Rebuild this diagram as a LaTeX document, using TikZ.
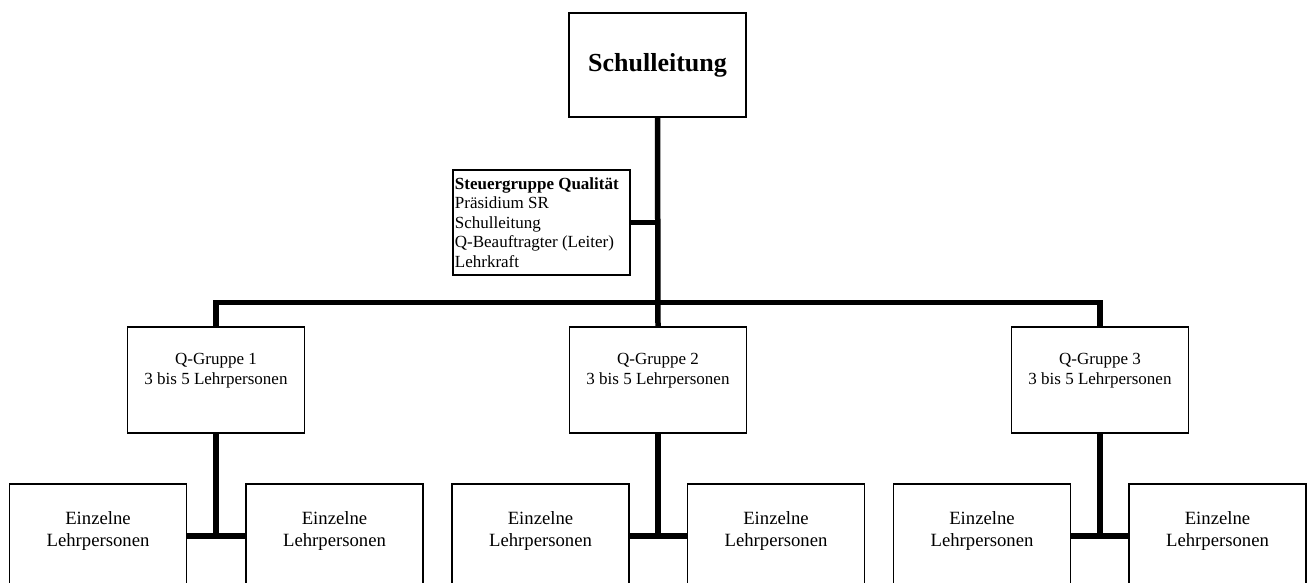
\documentclass[tikz,border=0pt]{standalone}
\usepackage{fontspec}
\setmainfont{Liberation Serif}
\begin{document}
\begin{tikzpicture}[x=1pt,y=-1pt,
  box/.style={draw, line width=1.8pt, inner sep=0pt, minimum width=177pt},
  conn/.style={line width=5.5pt},
]
\useasboundingbox (0,0) rectangle (1312,582);
\clip (0,0) rectangle (1312,582);
% top
\node[box, minimum height=104pt] (top) at (657.5,65)
  {\fontsize{26}{30}\selectfont\bfseries Schulleitung};
% steering group
\node[box, minimum height=105pt, anchor=north west] (steuer) at (452,169)
  {\parbox[c][105pt][t]{175pt}{\fontsize{17}{19.5}\selectfont\raggedright
   \vspace*{7.5pt}\hspace*{1pt}\textbf{Steuergruppe Qualität}\\
   \hspace*{1pt}Präsidium SR\\
   \hspace*{1pt}Schulleitung\\
   \hspace*{1pt}Q-Beauftragter (Leiter)\\
   \hspace*{1pt}Lehrkraft}};
% Q groups
\foreach \n/\cx in {1/216,2/658,3/1100}{
  \node[box, minimum height=106pt, anchor=north] (q\n) at (\cx,326)
    {\parbox[c][106pt][t]{175pt}{\fontsize{17}{20}\selectfont\centering
     \vspace*{26.5pt}Q-Gruppe \n\\3 bis 5 Lehrpersonen}};
}
% individual teachers
\foreach \n/\la/\lb in {1/98/334.5,2/540.5/776,3/982/1217.5}{
  \node[box, minimum height=140pt, anchor=north] (e\n a) at (\la,483)
    {\parbox[c][140pt][t]{175pt}{\fontsize{18.7}{22}\selectfont\centering
     \vspace*{28pt}Einzelne\\Lehrpersonen}};
  \node[box, minimum height=140pt, anchor=north] (e\n b) at (\lb,483)
    {\parbox[c][140pt][t]{175pt}{\fontsize{18.7}{22}\selectfont\centering
     \vspace*{28pt}Einzelne\\Lehrpersonen}};
}
% connectors
\draw[conn] (top.south) -- (q2.north);
\draw[conn] (steuer.east) -- (steuer.east -| top.south);
\draw[conn] (q1.north) -- ++(0,-23.5) -| (q3.north);
\foreach \n in {1,2,3}{
  \coordinate (j\n) at ([yshift=-53pt]e\n a.north east);
  \draw[conn] (q\n.south) -- (q\n.south |- j\n);
  \draw[conn] (j\n) -- (e\n b.north west |- j\n);
}
\end{tikzpicture}
\end{document}
